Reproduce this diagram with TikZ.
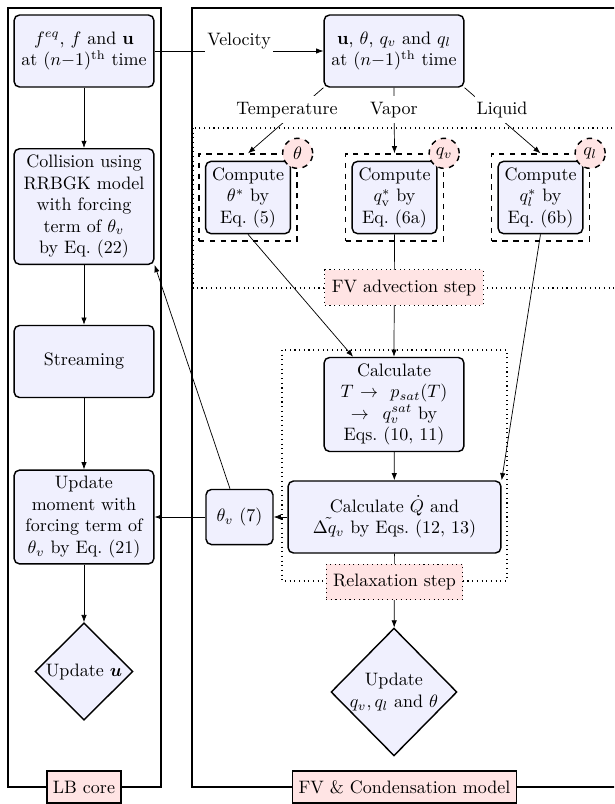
\documentclass[tikz,border=0pt]{standalone}
\usepackage{amsmath}
\usetikzlibrary{shapes.geometric,arrows.meta}
\definecolor{boxfill}{RGB}{240,240,254}
\definecolor{pinkfill}{RGB}{255,228,228}
\tikzset{
  boxbase/.style={draw, thick, rounded corners=3pt, fill=boxfill, align=center, inner sep=3.33pt},
  lbox/.style={boxbase, text width=71pt},
  qbox/.style={boxbase, text width=111.6pt, minimum height=40pt},
  cbox/.style={boxbase, text width=40.5pt, inner sep=3.3pt},
  grp/.style={draw, thick, dashed, minimum width=54.4pt, minimum height=48.3pt, inner sep=0pt},
  badge/.style={circle, draw, thick, dashed, fill=pinkfill, minimum size=16.7pt, inner sep=0pt},
  steplbl/.style={draw, semithick, dotted, fill=pinkfill, inner xsep=3.9pt, minimum height=19.6pt},
  framelbl/.style={draw, thick, fill=pinkfill, inner xsep=3.33pt, minimum height=17.8pt},
  conlbl/.style={fill=white, anchor=base, inner xsep=1pt, inner ysep=3.33pt},
  arr/.style={-{Latex[length=4pt,width=3pt]}},
  dia/.style={diamond, draw, thick, fill=boxfill, align=center, inner sep=0pt},
  frame/.style={draw, thick},
  dotrect/.style={draw, semithick, dotted}
}
\begin{document}
\begin{tikzpicture}[x=0.5556pt, y=-0.5556pt]
\useasboundingbox (0,0) rectangle (614,804);
\clip (0,0) rectangle (614,804);

% frames
\draw[frame] (8,8) rectangle (161,787);
\draw[frame] (192,8) rectangle (617,787);

% dotted regions
\draw[dotrect] (193,128) rectangle (617,288);
\draw[dotrect] (282,350) rectangle (507,581);

% left column
\node[lbox, minimum height=40pt] (tl) at (84,51) {$f^{eq}$, $f$ and $\mathbf{u}$\\ at $(n{-}1)^{\mathrm{th}}$ time};
\node[lbox] (coll) at (84,206.5) {Collision using\\ RRBGK model\\ with forcing\\ term of $\theta_v$\\ by Eq.~(22)};
\node[lbox, minimum height=40pt] (str) at (84,361.5) {Streaming};
\node[lbox] (upd) at (84,517) {Update\\ moment with\\ forcing term of\\ $\theta_v$ by Eq.~(21)};
\node[dia, minimum width=54.4pt, minimum height=54pt] (du) at (84,671.5) {Update $\boldsymbol{u}$};

% right column
\node[lbox, minimum height=40pt] (tr) at (394,51) {$\mathbf{u}$, $\theta$, $q_v$ and $q_l$\\ at $(n{-}1)^{\mathrm{th}}$ time};

\node[grp] (g1) at (248,197.5) {};
\node[grp] (g2) at (394.5,197.5) {};
\node[grp] (g3) at (540.5,197.5) {};
\node[cbox] (c1) at (248,197.5) {Compute\\ $\theta^*$ by\\ Eq.~(5)};
\node[cbox] (c2) at (394.5,197.5) {Compute\\ $q_{\mathrm{v}}^*$ by\\ Eq.~(6a)};
\node[cbox] (c3) at (540.5,197.5) {Compute\\ $q_l^*$ by\\ Eq.~(6b)};

\node[lbox] (calc) at (394,404.5) {Calculate\\ $T\rightarrow\ p_{sat}(T)$\\ $\rightarrow\ q_v^{sat}$ by\\ Eqs.~(10, 11)};
\node[qbox] (qd) at (394.5,517) {Calculate $\dot{Q}$ and\\ $\tilde{\Delta q_v}$ by Eqs.~(12, 13)};
\node[boxbase, minimum width=37.2pt, minimum height=30.6pt] (thv) at (239.5,517) {$\theta_v$ (7)};
\node[dia, minimum width=70pt, minimum height=71pt] (dq) at (394,692) {Update\\ $q_v, q_l$ and $\theta$};

% connectors
\draw[arr] (tl) -- node[conlbl, midway, yshift=3.2pt] (lvel) {Velocity} (tr);
\draw[arr] (tl) -- (coll);
\draw[arr] (coll) -- (str);
\draw[arr] (str) -- (upd);
\draw[arr] (upd) -- (du);

\draw[arr] (tr.south west) -- (g1.north);
\draw[arr] (tr.south) -- (g2.north);
\draw[arr] (tr.south east) -- (g3.north);
\node[conlbl] (ltemp) at (287,114) {Temperature};
\node[conlbl] (lvap) at (394,114) {Vapor};
\node[conlbl] (lliq) at (502,114) {Liquid};

\draw[arr] (c1.south) -- (calc);
\draw[arr] (c2.south) -- (calc.north);
\draw[arr] (c3.south) -- (qd.north east);
\draw[arr] (calc) -- (qd);
\draw[arr] (qd) -- (dq);
\draw[arr] (qd) -- (thv);
\draw[arr] (thv) -- (upd);
\draw[arr] (thv) -- (coll.south east);

% step labels
\node[steplbl] (fva) at (404,287.5) {FV advection step};
\node[steplbl] (rlx) at (394.5,582) {Relaxation step};

% frame labels
\node[framelbl] (lbc) at (84,787) {LB core};
\node[framelbl] (fvc) at (404.5,787) {FV \& Condensation model};

% badges
\node[badge] (b1) at (g1.north east) {$\theta$};
\node[badge] (b2) at (g2.north east) {$q_v$};
\node[badge] (b3) at (g3.north east) {$q_l$};
\end{tikzpicture}
\end{document}
